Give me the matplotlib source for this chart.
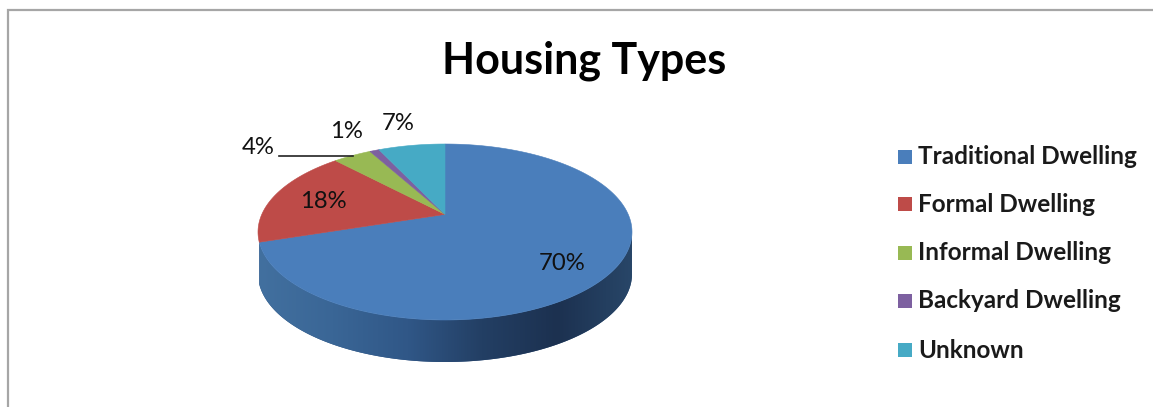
import numpy as np
import matplotlib
matplotlib.use("Agg")
import matplotlib.pyplot as plt
from matplotlib.colors import LinearSegmentedColormap

plt.rcParams['font.family'] = ['Lato', 'DejaVu Sans']

categories = ['Traditional Dwelling', 'Formal Dwelling', 'Informal Dwelling', 'Backyard Dwelling', 'Unknown']
values = [70, 18, 4, 1, 7]
colors = ['#4a7ebb', '#be4b48', '#98b954', '#7d60a0', '#46aac5']
pct_labels = ['70%', '18%', '4%', '1%', '7%']

# label centres in pixels
label_pos = [(562, 264), (323, 202), (258, 148), (346, 131), (398, 123)]
legend_y = [157, 204, 253, 301, 350]

W, H = 1153, 407
cx, cy, rx, ry = 445, 232, 187, 88
depth = 42
tilt = 0.2  # perspective of the 3d pie


def rim(theta):
    # theta clockwise from 12 o'clock, mapped on the ellipse with perspective
    x = np.sin(theta)
    y = np.cos(theta)
    d = 1 + tilt * y
    xp = x * np.sqrt(1 - tilt ** 2) / d
    yp = (y + tilt) / d
    return cx + rx * xp, cy - ry * yp


fig = plt.figure(figsize=(W / 100, H / 100), dpi=100)
ax = fig.add_axes([0, 0, 1, 1])
ax.set_xlim(0, W)
ax.set_ylim(H, 0)
ax.axis('off')

# chart border
ax.plot([7.5, 7.5, W], [H, 10, 10], color='#a6a6a6', lw=1.6, solid_joinstyle='miter')

edges = np.cumsum([0] + values) / sum(values) * 2 * np.pi
hub = (cx, cy - ry * tilt)

# side of the pie, only the blue slice shows at the front
th = np.linspace(edges[0], edges[1], 600)
sx, sy = rim(th)
front = sy >= cy
sx, sy = sx[front], sy[front]
px = np.r_[sx, sx[::-1]]
py = np.r_[sy, sy[::-1] + depth]
poly = ax.fill(px, py, color='#2c4f7c', lw=0, zorder=1)[0]
side_cmap = LinearSegmentedColormap.from_list('side', ['#42709f', '#3a6696', '#305787', '#233f64', '#1c3150', '#284668'])
grad = ax.imshow(np.linspace(0, 1, 256).reshape(1, -1), cmap=side_cmap, aspect='auto',
                 extent=[cx - rx, cx + rx, cy + ry + depth, cy - ry], zorder=2)
grad.set_clip_path(poly)
ax.set_xlim(0, W)
ax.set_ylim(H, 0)

# top of the pie
for i, col in enumerate(colors):
    t = np.linspace(edges[i], edges[i + 1], 300)
    x, y = rim(t)
    ax.fill(np.r_[hub[0], x], np.r_[hub[1], y], color=col, lw=0.4, zorder=3)

# leader line of the 4% label
ax.plot([279, 353], [156, 156], color='#222222', lw=1.2, zorder=4)

for txt, (lx, ly) in zip(pct_labels, label_pos):
    ax.text(lx, ly, txt, fontsize=17.2, color='#111111', ha='center', va='center', zorder=5)

ax.text(584.5, 61, 'Housing Types', fontsize=31, fontweight='bold', color='black', ha='center', va='center')

# legend
for name, col, ly in zip(categories, colors, legend_y):
    ax.scatter([904.5], [ly], marker='s', s=116, color=col, linewidths=0, zorder=5)
    ax.text(918, ly, name, fontsize=17.5, fontweight='bold', color='#1a1a1a', ha='left', va='center')

fig.savefig('out.png', dpi=100)
